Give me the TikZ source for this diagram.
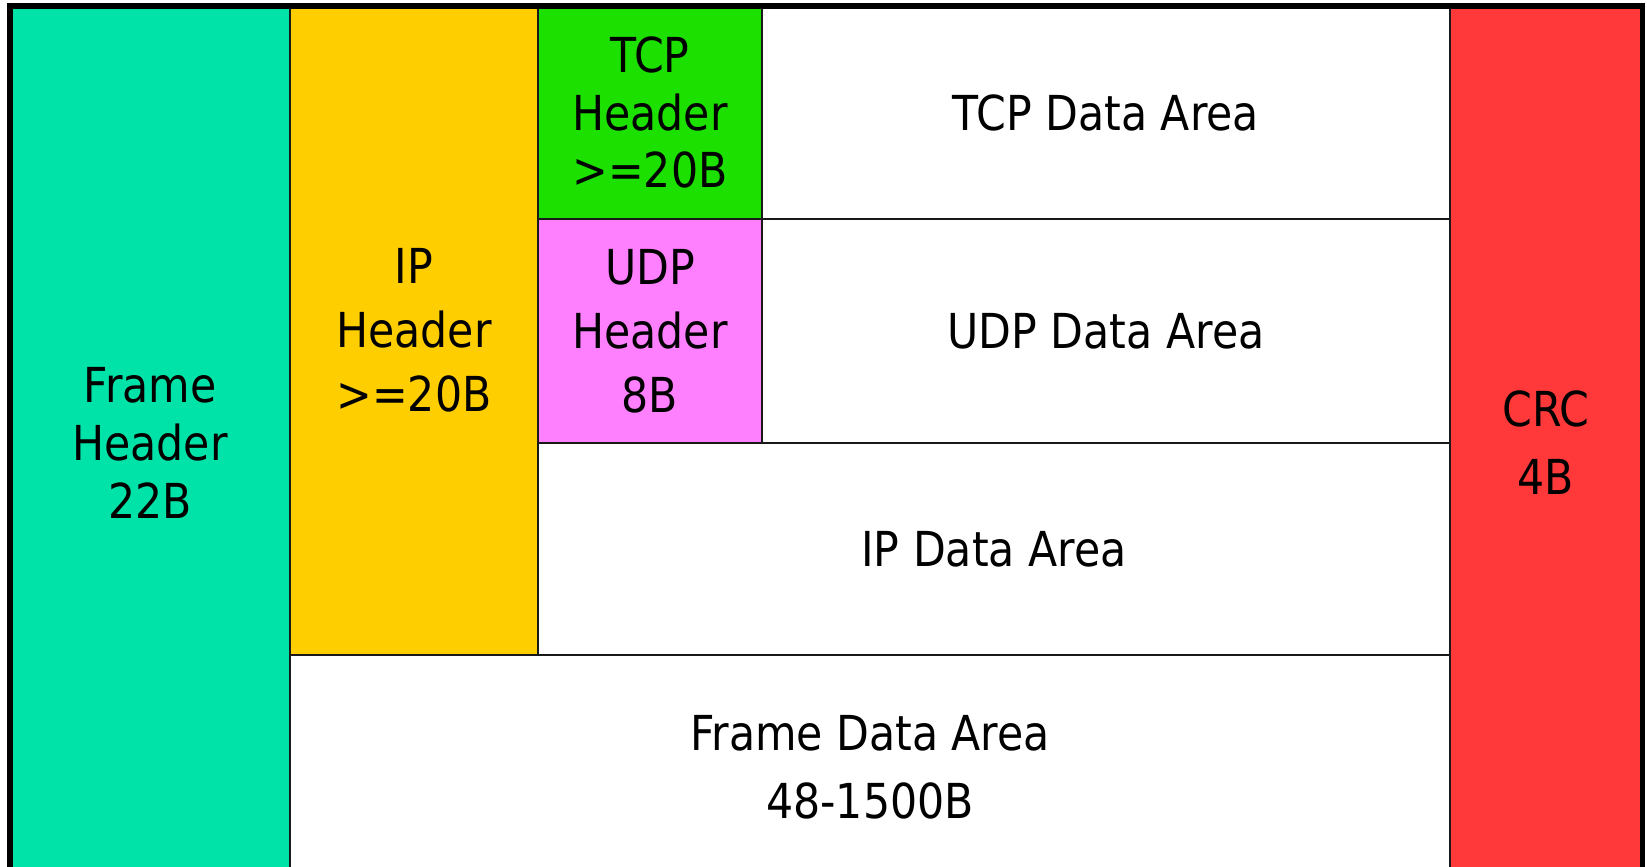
\documentclass[tikz,border=0pt]{standalone}
\usepackage{fontspec}
\setmainfont{DejaVu Sans}[FakeStretch=0.885]

\definecolor{frameteal}{RGB}{0,227,168}
\definecolor{ipyellow}{RGB}{255,206,0}
\definecolor{tcpgreen}{RGB}{28,224,0}
\definecolor{udppink}{RGB}{255,128,255}
\definecolor{crcred}{RGB}{255,57,57}

\begin{document}
\begin{tikzpicture}[x=0.01cm,y=-0.01cm,
    cell/.style={draw=black!90,line width=0.6pt},
    txt/.style={align=center,font=\fontsize{13.7}{16.4}\selectfont}]
  \useasboundingbox (0,0) rectangle (1647,867);

  % header columns and data areas
  \draw[cell,fill=frameteal] (10,6) rectangle (290,880)
    node[txt,midway] (framehdr) {Frame\\Header\\22B};
  \draw[cell,fill=ipyellow] (290,6) rectangle (538,655)
    node[txt,midway] (iphdr) {IP\\[1.8pt]Header\\[1.8pt]>=20B};
  \draw[cell,fill=tcpgreen] (538,6) rectangle (762,219)
    node[txt,midway] (tcphdr) {TCP\\Header\\>=20B};
  \draw[cell] (762,6) rectangle (1450,219)
    node[txt,midway] (tcpdata) {TCP Data Area};
  \draw[cell,fill=udppink] (538,219) rectangle (762,443)
    node[txt,midway] (udphdr) {UDP\\[1.8pt]Header\\[1.8pt]8B};
  \draw[cell] (762,219) rectangle (1450,443)
    node[txt,midway] (udpdata) {UDP Data Area};
  \draw[cell] (538,443) rectangle (1450,655)
    node[txt,midway] (ipdata) {IP Data Area};
  \draw[cell] (290,655) rectangle (1450,880)
    node[txt,midway] (framedata) {Frame Data Area\\[3pt]48-1500B};
  \draw[cell,fill=crcred] (1450,6) rectangle (1642,880)
    node[txt,midway] (crc) {CRC\\[3pt]4B};

  % outer frame, open at the bottom
  \draw[line width=1.7pt,black] (10,880) -- (10,6) -- (1642.5,6) -- (1642.5,880);
\end{tikzpicture}
\end{document}
